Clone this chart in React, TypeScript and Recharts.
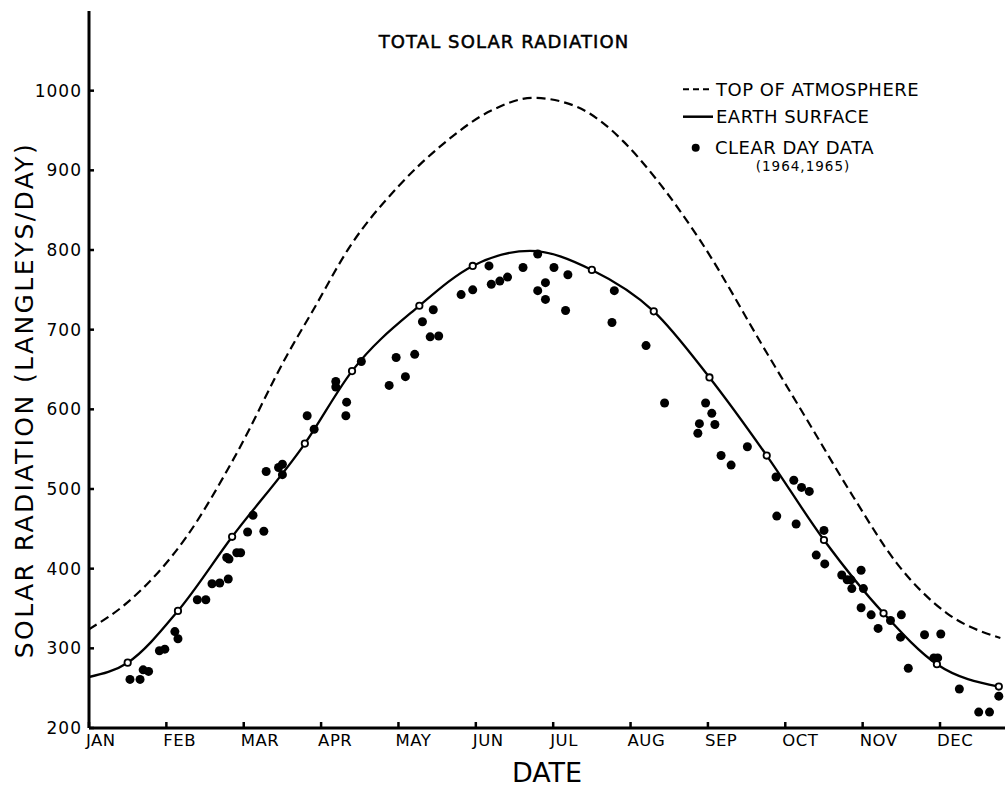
import { ComposedChart, Line, Scatter, XAxis, YAxis, Legend, Label } from "recharts"

// x = months since Jan 1 (month ticks are evenly spaced), y = langleys/day
const MONTHS = ["JAN", "FEB", "MAR", "APR", "MAY", "JUN", "JUL", "AUG", "SEP", "OCT", "NOV", "DEC"]
const MONTH_TICKS = [0, 1, 2, 3, 4, 5, 6, 7, 8, 9, 10, 11]
const Y_TICKS = [200, 300, 400, 500, 600, 700, 800, 900, 1000]

const TOP_OF_ATMOSPHERE = [
  [0, 324], [0.49, 357], [1.26, 440], [1.91, 545], [2.56, 668], [2.9, 725], [3.37, 804],
  [4.0, 880], [4.54, 930], [5.2, 975], [5.74, 991], [6.3, 980], [6.61, 962], [6.91, 936],
  [7.34, 888], [7.9, 812], [8.76, 671], [9.28, 587], [9.88, 490], [10.44, 407],
  [11.09, 344], [11.78, 313],
]

const EARTH_SURFACE = [
  [0, 264], [0.5, 282], [1.15, 347], [1.85, 440], [2.79, 557], [3.4, 648], [4.27, 730],
  [4.96, 780], [5.7, 799], [6.5, 775], [7.3, 723], [8.02, 640], [8.76, 542], [9.5, 436],
  [10.27, 344], [10.96, 280], [11.76, 252],
]
// indexes of EARTH_SURFACE drawn with an open circle
const SURFACE_MARKS = [1, 2, 3, 4, 5, 6, 7, 9, 10, 11, 12, 13, 14, 15, 16]

const CLEAR_DAY = [
  [0.53, 261], [0.66, 261], [0.7, 273], [0.77, 271], [0.91, 297], [0.98, 299], [1.11, 321],
  [1.15, 312], [1.4, 361], [1.51, 361], [1.59, 381], [1.69, 382], [1.8, 387], [1.78, 414],
  [1.81, 412], [1.91, 420], [1.96, 420], [2.05, 446], [2.12, 467], [2.26, 447], [2.29, 522],
  [2.45, 527], [2.5, 531], [2.5, 518], [2.82, 592], [2.91, 575], [3.19, 635], [3.19, 628],
  [3.33, 609], [3.32, 592], [3.52, 660], [3.88, 630], [3.97, 665], [4.09, 641], [4.21, 669],
  [4.31, 710], [4.45, 725], [4.41, 691], [4.52, 692], [4.81, 744], [4.96, 750], [5.17, 780],
  [5.2, 757], [5.31, 761], [5.41, 766], [5.61, 778], [5.8, 795], [5.8, 749], [5.9, 759],
  [5.9, 738], [6.01, 778], [6.19, 769], [6.16, 724], [6.79, 749], [6.76, 709], [7.2, 680],
  [7.44, 608], [7.97, 608], [8.05, 595], [7.89, 582], [7.87, 570], [8.09, 581], [8.17, 542],
  [8.3, 530], [8.51, 553], [8.88, 515], [8.89, 466], [9.11, 511], [9.21, 502], [9.31, 497],
  [9.14, 456], [9.5, 448], [9.4, 417], [9.51, 406], [9.73, 392], [9.8, 386], [9.85, 386],
  [9.86, 375], [9.98, 398], [10.01, 375], [9.98, 351], [10.11, 342], [10.2, 325], [10.36, 335],
  [10.5, 342], [10.49, 314], [10.8, 317], [11.01, 318], [10.59, 275], [10.92, 288], [10.97, 288],
  [11.25, 249], [11.76, 240], [11.5, 220], [11.64, 220],
]

const toRows = (pts: number[][]) => pts.map(([m, v]) => ({ m, v }))
const toaRows = toRows(TOP_OF_ATMOSPHERE)
const surfaceRows = toRows(EARTH_SURFACE)
const markRows = SURFACE_MARKS.map((i) => surfaceRows[i])
const clearRows = toRows(CLEAR_DAY)

const FONT = "DejaVu Sans"

function MonthTick(props: any) {
  const { x, y, payload } = props
  return (
    <g>
      <line x1={x} x2={x} y1={y} y2={y - 6} stroke="#000" strokeWidth={2.5} />
      <text x={x - 3} y={y + 18} textAnchor="start" fontSize={16.5} letterSpacing={0.5} fontFamily={FONT} fill="#000">
        {MONTHS[payload.value]}
      </text>
    </g>
  )
}

function ValueTick(props: any) {
  const { x, y, payload } = props
  return (
    <g>
      <line x1={x} x2={x + 5} y1={y} y2={y} stroke="#000" strokeWidth={2.5} />
      <text x={x - 7} y={y + 6} textAnchor="end" fontSize={17} letterSpacing={1} fontFamily={FONT} fill="#000">
        {payload.value}
      </text>
    </g>
  )
}

function ChartLegend() {
  return (
    <svg width={300} height={110} style={{ display: "block" }}>
      <g fontFamily={FONT} fill="#000" fontSize={18} letterSpacing={0.5}>
        <line x1={3} x2={33} y1={14.3} y2={14.3} stroke="#000" strokeWidth={2} strokeDasharray="6 4" />
        <text x={36} y={20.8}>TOP OF ATMOSPHERE</text>
        <line x1={3} x2={33} y1={41.7} y2={41.7} stroke="#000" strokeWidth={2.5} />
        <text x={36} y={48.2}>EARTH SURFACE</text>
        <circle cx={15.7} cy={72.7} r={4} fill="#000" />
        <text x={35} y={78.7}>CLEAR DAY DATA</text>
        <text x={123} y={96} fontSize={13.5} letterSpacing={1} textAnchor="middle">(1964,1965)</text>
      </g>
    </svg>
  )
}

export default function App() {
  return (
    <div style={{ position: "absolute", left: 0, top: 0, width: 1005, height: 786, background: "#fff" }}>
      <svg width={1005} height={60} style={{ position: "absolute", left: 0, top: 0, zIndex: 2 }}>
        <text x={504} y={48} textAnchor="middle" fontFamily={FONT} fontSize={18} letterSpacing={1.1} fill="#000" stroke="#000" strokeWidth={0.5}>
          TOTAL SOLAR RADIATION
        </text>
      </svg>
      <ComposedChart width={1005} height={786} margin={{ top: 11, right: 0, bottom: 0, left: 0 }}>
        <XAxis
          type="number"
          dataKey="m"
          domain={[0, 11.84]}
          ticks={MONTH_TICKS}
          allowDataOverflow
          height={58}
          tickSize={0}
          tickMargin={0}
          tickLine={false}
          axisLine={{ stroke: "#000", strokeWidth: 3 }}
          tick={<MonthTick />}
        >
          <Label
            content={() => (
              <text x={547} y={781.5} textAnchor="middle" fontFamily={FONT} fontSize={27} fill="#000">
                DATE
              </text>
            )}
          />
        </XAxis>
        <YAxis
          type="number"
          dataKey="v"
          domain={[200, 1100]}
          ticks={Y_TICKS}
          allowDataOverflow
          width={89}
          tickSize={0}
          tickMargin={0}
          tickLine={false}
          axisLine={{ stroke: "#000", strokeWidth: 3 }}
          tick={<ValueTick />}
        >
          <Label
            content={() => (
              <text transform="translate(33,400) rotate(-90)" x={0} y={0} textAnchor="middle" fontFamily={FONT} fontSize={25} letterSpacing={2.4} fill="#000">
                SOLAR RADIATION (LANGLEYS/DAY)
              </text>
            )}
          />
        </YAxis>
        <Legend
          layout="vertical"
          align="center"
          verticalAlign="middle"
          wrapperStyle={{ left: 680, top: 75, width: 300, height: 110 }}
          content={() => <ChartLegend />}
        />
        <Line
          data={toaRows}
          dataKey="v"
          type="monotone"
          stroke="#000"
          strokeWidth={2.2}
          strokeDasharray="9 5"
          dot={false}
          isAnimationActive={false}
        />
        <Line
          data={surfaceRows}
          dataKey="v"
          type="monotone"
          stroke="#000"
          strokeWidth={2.3}
          dot={false}
          isAnimationActive={false}
        />
        <Scatter
          data={clearRows}
          dataKey="v"
          isAnimationActive={false}
          shape={(p: any) => <circle cx={p.cx} cy={p.cy} r={4.5} fill="#000" />}
        />
        <Scatter
          data={markRows}
          dataKey="v"
          isAnimationActive={false}
          shape={(p: any) => <circle cx={p.cx} cy={p.cy} r={3.2} fill="#fff" stroke="#000" strokeWidth={1.8} />}
        />
      </ComposedChart>
    </div>
  )
}
